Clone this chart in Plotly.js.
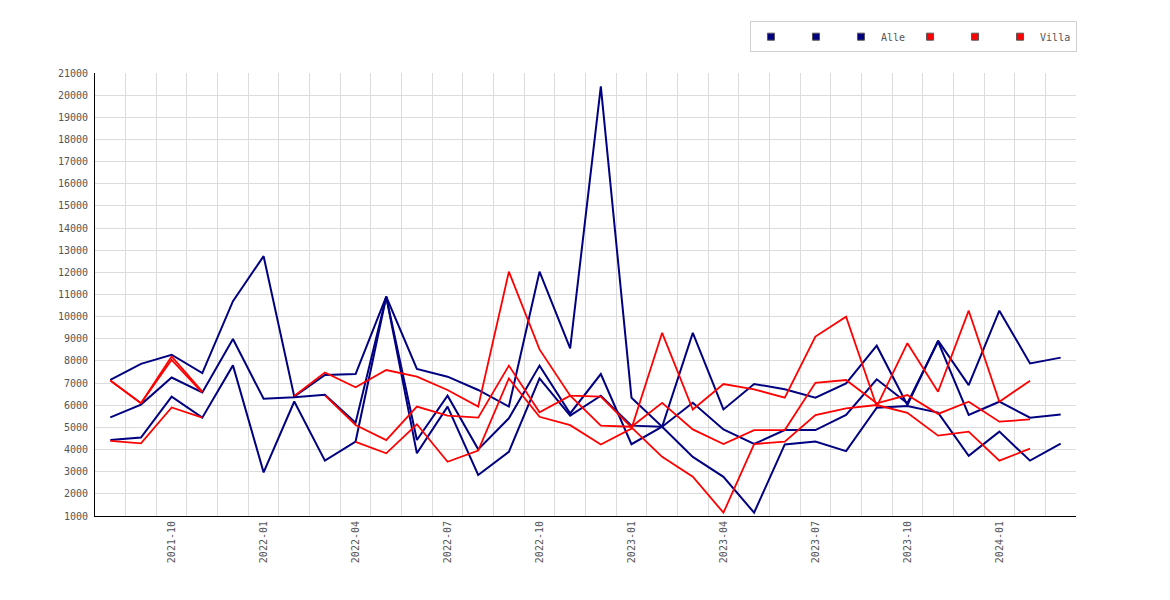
<!DOCTYPE html>
<html>
<head>
<meta charset="utf-8">
<script src="https://cdn.plot.ly/plotly-3.0.1.min.js"></script>
<style>
  html, body { margin: 0; padding: 0; background: #fff; }
  #chart { width: 1170px; height: 600px; }
</style>
</head>
<body>
<div id="chart"></div>
<script>
// monthly categories, 2021-08 .. 2024-03
const months = [
  '2021-08', '2021-09', '2021-10', '2021-11', '2021-12',
  '2022-01', '2022-02', '2022-03', '2022-04', '2022-05', '2022-06',
  '2022-07', '2022-08', '2022-09', '2022-10', '2022-11', '2022-12',
  '2023-01', '2023-02', '2023-03', '2023-04', '2023-05', '2023-06',
  '2023-07', '2023-08', '2023-09', '2023-10', '2023-11', '2023-12',
  '2024-01', '2024-02', '2024-03'
];
const tickMonths = ['2021-10', '2022-01', '2022-04', '2022-07', '2022-10',
  '2023-01', '2023-04', '2023-07', '2023-10', '2024-01'];

// "Alle" (blue) series
const alle1 = [7150, 7870, 8280, 7450, 10700, 12730, 6390, 7370, 7410, 10900,
  7640, 7290, 6690, 5940, 12030, 8570, 20400, 6340, 5030, 9270, 5810, 6960,
  6720, 6340, 6990, 8690, 6010, 8920, 6910, 10270, 7890, 8150];
const alle2 = [5450, 6030, 7250, 6575, 8990, 6290, 6360, 6470, 5210, 10900,
  4430, 6430, 4010, 5410, 7790, 5630, 7410, 4240, 5030, 6110, 4910, 4250,
  4880, 4880, 5560, 7170, 6090, 8870, 5560, 6160, 5440, 5580];
const alle3 = [4430, 4540, 6390, 5440, 7800, 2970, 6170, 3500, 4360, 10900,
  3830, 5940, 2850, 3900, 7210, 5530, 6430, 5080, 5030, 3670, 2770, 1150,
  4230, 4360, 3930, 5890, 5970, 5670, 3720, 4810, 3500, 4270];

// "Villa" (red) series, null = no value that month
const villa1 = [7120, 6090, 8200, 6620, null, null, 6420, 7480, 6810, 7590,
  7290, 6690, 5940, 12030, 8520, 6430, 6390, 5000, 3670, 2770, 1150, 4250,
  4360, 5560, 5860, 6010, 5660, 4630, 4810, 3500, 4040, null];
const villa2 = [7120, 6090, 8050, 6570, null, null, null, 6450, 5110, 4430,
  5940, 5530, 5440, 7790, 5680, 6430, 5080, 5030, 6110, 4910, 4250, 4880,
  4880, 7010, 7140, 6090, 6460, 5610, 6160, 5260, 5360, null];
const villa3 = [4390, 4280, 5900, 5440, null, null, null, null, 4350, 3830,
  5140, 3450, 3950, 7210, 5480, 5100, 4230, 4950, 9270, 5810, 6960, 6720,
  6340, 9100, 10000, 5940, 8800, 6610, 10270, 6160, 7110, null];

const seriesNames = ['', '', 'Alle', '', '', 'Villa'];

const BLUE = '#000080';
const RED = '#ff0000';
const GRID = '#dcdcdc';
const FONT = 'DejaVu Sans Mono, monospace';

const xIdx = months.map((m, i) => i);
const tickIdx = tickMonths.map(m => months.indexOf(m));

const allSeries = [
  { y: alle1, color: BLUE, width: 2 },
  { y: alle2, color: BLUE, width: 2 },
  { y: alle3, color: BLUE, width: 2 },
  { y: villa1, color: RED, width: 1.8 },
  { y: villa2, color: RED, width: 1.8 },
  { y: villa3, color: RED, width: 1.8 }
];

const traces = allSeries.map((s, i) => ({
  x: xIdx, y: s.y,
  mode: 'lines',
  name: seriesNames[i],
  line: { color: s.color, width: s.width },
  connectgaps: false,
  showlegend: false,
  hovertemplate: '%{text}: %{y}<extra></extra>',
  text: months
}));

// legend entries: small squares like the original
allSeries.forEach((s, i) => {
  traces.push({
    x: [null], y: [null],
    mode: 'markers',
    name: seriesNames[i],
    marker: { symbol: 'square', size: 7, color: s.color, line: { color: '#555', width: 1 } },
    hoverinfo: 'skip'
  });
});

const layout = {
  width: 1170, height: 600,
  margin: { t: 73, r: 94, b: 84, l: 95 },
  paper_bgcolor: '#ffffff',
  plot_bgcolor: '#ffffff',
  font: { family: FONT, size: 10, color: '#555' },
  showlegend: true,
  legend: {
    orientation: 'h',
    x: 1.001, xanchor: 'right',
    y: 1.117, yanchor: 'top',
    bordercolor: '#d0d0d0', borderwidth: 1,
    font: { family: FONT, size: 10, color: '#555' },
    itemwidth: 30
  },
  xaxis: {
    range: [-0.5, months.length - 0.5],
    tickmode: 'array',
    tickvals: tickIdx,
    ticktext: tickMonths,
    tickangle: -90,
    ticks: '',
    showgrid: false,
    minor: { tickmode: 'linear', tick0: -0.5, dtick: 1, showgrid: true, gridcolor: GRID, gridwidth: 1, ticks: '' },
    showline: true, linecolor: '#000', linewidth: 1,
    zeroline: false,
    tickfont: { family: FONT, size: 10, color: '#555' },
    fixedrange: true
  },
  yaxis: {
    range: [1000, 21000],
    tickmode: 'linear', tick0: 1000, dtick: 1000,
    tickformat: 'd',
    ticks: '',
    ticklabelstandoff: 4,
    showgrid: true, gridcolor: GRID, gridwidth: 1,
    showline: true, linecolor: '#000', linewidth: 1,
    zeroline: false,
    tickfont: { family: FONT, size: 10, color: '#555' },
    fixedrange: true
  }
};

Plotly.newPlot('chart', traces, layout, { displayModeBar: false, responsive: false });
</script>
</body>
</html>
